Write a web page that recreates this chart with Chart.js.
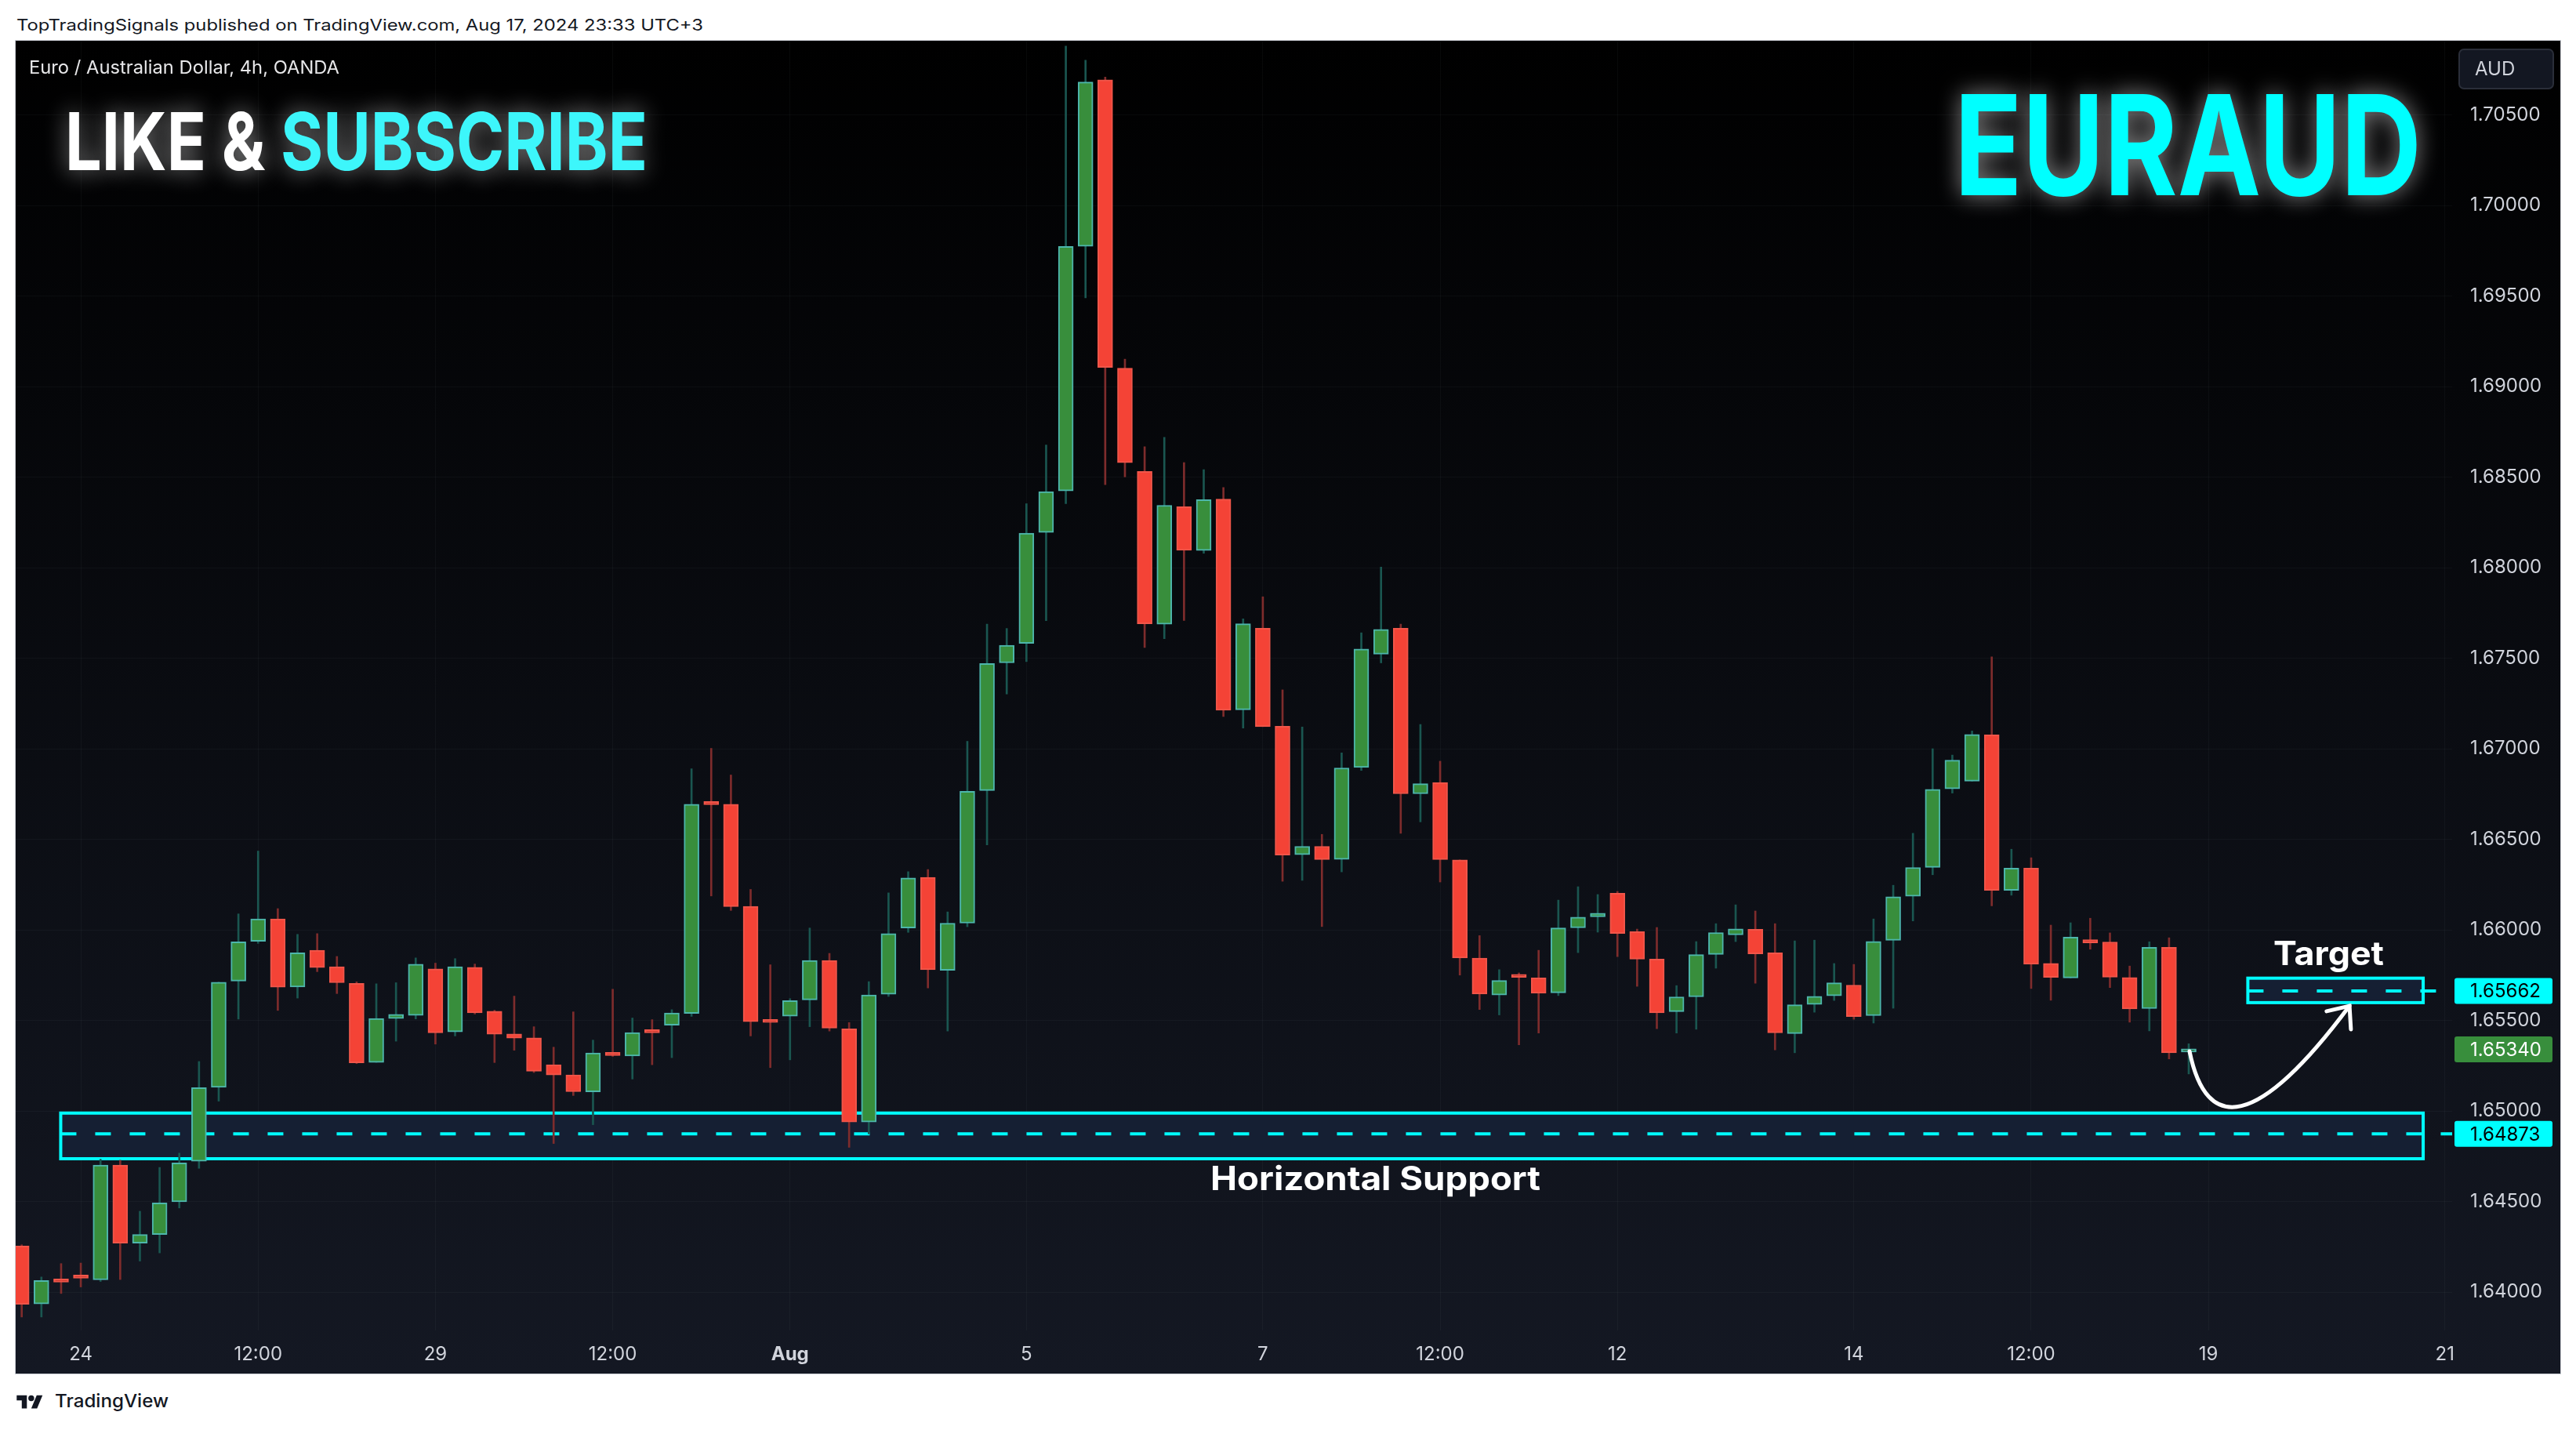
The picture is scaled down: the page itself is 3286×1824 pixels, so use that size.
<!DOCTYPE html>
<html>
<head>
<meta charset="utf-8">
<script src="https://cdn.jsdelivr.net/npm/chart.js@4.4.1/dist/chart.umd.min.js"></script>
<style>
  html, body { margin: 0; padding: 0; background: #ffffff; }
  body { width: 3286px; height: 1824px; position: relative; overflow: hidden; font-family: Inter, "Noto Sans", sans-serif; }
  .txt { position: absolute; white-space: nowrap; transform-origin: left top; }
  #header { left: 21px; top: 22px; font-size: 20px; line-height: 20px; color: #131722; }
  #frame { position: absolute; left: 19px; top: 51px; width: 3248px; height: 1702px; border: 1px solid #c9ccd3; box-sizing: border-box; }
  #wrap { position: absolute; left: 20px; top: 52px; width: 3246px; height: 1700px; }
  #logo { position: absolute; left: 21px; top: 1776px; }
  #footer { left: 70px; top: 1776px; font-size: 23px; line-height: 23px; font-weight: 500; color: #131722; }
</style>
</head>
<body>
<div id="header" class="txt">TopTradingSignals published on TradingView.com, Aug 17, 2024 23:33 UTC+3</div>
<div id="frame"></div>
<div id="wrap"><canvas id="chart"></canvas></div>
<svg id="logo" width="34" height="26" viewBox="0 0 36 28"><path d="M14 22H7V11H0V4h14v18z" fill="#131722"/><circle cx="20" cy="8" r="4" fill="#131722"/><path d="M28 22h-8l7.5-18h8z" fill="#131722"/></svg>
<div id="footer" class="txt">TradingView</div>
<script>
// EURAUD 4h candles, Jul 23 12:00 -> Aug 16 20:00 (UTC+3)
const opens = [1.64254,1.63934,1.64063,1.64085,1.64067,1.64701,1.64270,1.64318,1.64498,1.64722,
  1.65130,1.65717,1.65936,1.66060,1.65684,1.65887,1.65796,1.65704,1.65268,1.65510,
  1.65527,1.65784,1.65436,1.65793,1.65550,1.65425,1.65403,1.65255,1.65199,1.65105,
  1.65320,1.65303,1.65439,1.65473,1.65538,1.66697,1.66693,1.66130,1.65496,1.65523,
  1.65613,1.65831,1.65453,1.64939,1.65644,1.66010,1.66290,1.65776,1.66037,1.66769,
  1.67474,1.67582,1.68194,1.68423,1.69774,1.70693,1.69101,1.68531,1.67688,1.68336,
  1.68094,1.68378,1.67215,1.67665,1.67124,1.66415,1.66461,1.66389,1.66896,1.67522,
  1.67665,1.66751,1.66813,1.66386,1.65844,1.65640,1.65743,1.65734,1.65652,1.66011,
  1.66072,1.66202,1.65990,1.65838,1.65548,1.65630,1.65864,1.65972,1.66003,1.65873,
  1.65427,1.65588,1.65636,1.65695,1.65526,1.65942,1.66185,1.66345,1.66778,1.66821,
  1.67076,1.66218,1.66341,1.65815,1.65734,1.65946,1.65933,1.65737,1.65565,1.65903,
  1.65325];
const highs = [1.64261,1.64083,1.64157,1.64160,1.64733,1.64728,1.64446,1.64688,1.64767,1.65273,
  1.65711,1.66088,1.66435,1.66117,1.65975,1.65979,1.65853,1.65713,1.65702,1.65708,
  1.65845,1.65816,1.65841,1.65811,1.65556,1.65634,1.65465,1.65352,1.65547,1.65391,
  1.65672,1.65513,1.65504,1.65559,1.66889,1.67002,1.66855,1.66223,1.65807,1.65620,
  1.66010,1.65870,1.65488,1.65714,1.66204,1.66321,1.66333,1.66099,1.67041,1.67688,
  1.67664,1.68353,1.68677,1.70880,1.70802,1.70709,1.69151,1.68667,1.68719,1.68580,
  1.68541,1.68442,1.67717,1.67839,1.67325,1.67120,1.66527,1.66977,1.67640,1.68003,
  1.67688,1.67134,1.66931,1.66386,1.65968,1.65780,1.65762,1.65887,1.66164,1.66238,
  1.66195,1.66212,1.66004,1.66013,1.65692,1.65935,1.66034,1.66138,1.66104,1.66034,
  1.65939,1.65943,1.65814,1.65809,1.66060,1.66246,1.66533,1.67000,1.66965,1.67098,
  1.67507,1.66445,1.66398,1.66026,1.66039,1.66064,1.65983,1.65800,1.65934,1.65956,
  1.65371];
const lows = [1.63862,1.63862,1.63992,1.64028,1.64058,1.64069,1.64171,1.64216,1.64464,1.64683,
  1.65054,1.65507,1.65925,1.65555,1.65623,1.65769,1.65648,1.65261,1.65268,1.65385,
  1.65508,1.65369,1.65414,1.65535,1.65267,1.65335,1.65212,1.64820,1.65085,1.64924,
  1.65301,1.65176,1.65255,1.65294,1.65522,1.66187,1.66107,1.65414,1.65239,1.65282,
  1.65465,1.65441,1.64799,1.64873,1.65632,1.65986,1.65679,1.65441,1.66017,1.66469,
  1.67302,1.67481,1.67707,1.68353,1.69490,1.68458,1.68501,1.67559,1.67607,1.67708,
  1.68079,1.67178,1.67114,1.67122,1.66268,1.66273,1.66018,1.66320,1.66880,1.67474,
  1.66533,1.66596,1.66264,1.65750,1.65560,1.65530,1.65365,1.65430,1.65637,1.65874,
  1.65987,1.65852,1.65688,1.65454,1.65430,1.65451,1.65788,1.65935,1.65705,1.65337,
  1.65321,1.65545,1.65610,1.65506,1.65485,1.65567,1.66049,1.66304,1.66755,1.66821,
  1.66132,1.66191,1.65676,1.65611,1.65734,1.65893,1.65681,1.65490,1.65442,1.65287,
  1.65204];
const closes = [1.63932,1.64063,1.64055,1.64076,1.64701,1.64270,1.64318,1.64492,1.64713,1.65128,
  1.65711,1.65934,1.66060,1.65683,1.65873,1.65792,1.65708,1.65266,1.65510,1.65533,
  1.65810,1.65431,1.65796,1.65542,1.65423,1.65402,1.65219,1.65198,1.65106,1.65320,
  1.65306,1.65433,1.65431,1.65541,1.66693,1.66691,1.66128,1.65493,1.65488,1.65609,
  1.65831,1.65457,1.64939,1.65640,1.65979,1.66286,1.65780,1.66037,1.66765,1.67470,
  1.67571,1.68190,1.68420,1.69774,1.70681,1.69105,1.68579,1.67690,1.68344,1.68096,
  1.68375,1.67213,1.67690,1.67122,1.66413,1.66461,1.66388,1.66894,1.67551,1.67659,
  1.66751,1.66807,1.66388,1.65844,1.65645,1.65720,1.65737,1.65650,1.66010,1.66070,
  1.66092,1.65980,1.65838,1.65542,1.65630,1.65863,1.65985,1.66005,1.65867,1.65431,
  1.65586,1.65633,1.65707,1.65521,1.65936,1.66183,1.66344,1.66776,1.66937,1.67079,
  1.66218,1.66341,1.65810,1.65737,1.65960,1.65928,1.65739,1.65563,1.65903,1.65321,
  1.65340];

// time axis: candle index -> label
const timeTickIdx = [3, 12, 21, 30, 39, 51, 63, 72, 81, 93, 102, 111, 123];
const timeTickLabels = ['24', '12:00', '29', '12:00', 'Aug', '5', '7', '12:00', '12', '14', '12:00', '19', '21'];

const supportLevel = 1.64873;
const targetLevel = 1.65662;
const lastClose = closes[closes.length - 1];

const UP = '#388e3c', UP_BORDER = '#4db6ac', UP_WICK = '#1a5650';
const DOWN = '#f44336', DOWN_BORDER = '#f0564a', DOWN_WICK = '#7e2c2c';
const CYAN = '#00ffff';
const FONT = 'Inter, "Noto Sans", sans-serif';

const bodies = opens.map((o, i) => ({ x: i, y: [o, closes[i]] }));
const wicks = lows.map((l, i) => ({ x: i, y: [l, highs[i]] }));
const isUp = i => closes[i] >= opens[i];

function fitText(ctx, text, x, y, width) {
  const w = ctx.measureText(text).width;
  ctx.save();
  ctx.translate(x, y);
  ctx.scale(width / w, 1);
  ctx.fillText(text, 0, 0);
  ctx.restore();
}

function priceTag(ctx, chart, value, fill, color) {
  const y = chart.scales.y.getPixelForValue(value);
  ctx.save();
  ctx.fillStyle = fill;
  ctx.beginPath();
  ctx.roundRect(3111, y - 16.5, 125, 33, 3);
  ctx.fill();
  ctx.fillStyle = color;
  ctx.font = '24px ' + FONT;
  ctx.textBaseline = 'middle';
  ctx.textAlign = 'left';
  ctx.fillText(value.toFixed(5), 3131, y + 1);
  ctx.restore();
}

const drawings = {
  id: 'drawings',
  beforeDraw(chart) {
    const { ctx, width, height } = chart;
    const g = ctx.createLinearGradient(0, 0, 0, height);
    g.addColorStop(0, '#000000');
    g.addColorStop(1, '#141823');
    ctx.save();
    ctx.fillStyle = g;
    ctx.fillRect(0, 0, width, height);
    ctx.restore();
  },
  beforeDatasetsDraw(chart) {
    const { ctx, chartArea: a, scales: { x, y } } = chart;
    ctx.save();
    ctx.beginPath();
    ctx.rect(a.left, a.top, a.right - a.left, a.bottom - a.top);
    ctx.clip();
    const box = (x0, x1, top, bottom, level) => {
      const l = x.getPixelForValue(x0), r = x.getPixelForValue(x1);
      const t = y.getPixelForValue(top), b = y.getPixelForValue(bottom);
      ctx.fillStyle = '#151f33';
      ctx.fillRect(l, t, r - l, b - t);
      ctx.strokeStyle = CYAN;
      ctx.lineWidth = 4;
      ctx.setLineDash([]);
      ctx.strokeRect(l, t, r - l, b - t);
      const ly = y.getPixelForValue(level);
      ctx.setLineDash([20, 24]);
      ctx.beginPath();
      ctx.moveTo(l, ly);
      ctx.lineTo(a.right, ly);
      ctx.stroke();
    };
    box(1.98, 121.9, 1.64988, 1.64736, supportLevel);
    box(113.0, 121.9, 1.65733, 1.65598, targetLevel);
    ctx.restore();
  },
  afterDatasetsDraw(chart) {
    const { ctx, scales: { x, y } } = chart;
    const p = (i, v) => [x.getPixelForValue(i), y.getPixelForValue(v)];
    const p0 = p(110.04, 1.65329), p1 = p(110.9, 1.6487), p2 = p(113.5, 1.6490), p3 = p(118.16, 1.6558);
    ctx.save();
    ctx.strokeStyle = '#ffffff';
    ctx.lineWidth = 5;
    ctx.lineCap = 'round';
    ctx.beginPath();
    ctx.moveTo(p0[0], p0[1]);
    ctx.bezierCurveTo(p1[0], p1[1], p2[0], p2[1], p3[0], p3[1]);
    ctx.stroke();
    const ang = Math.atan2(p3[1] - p2[1], p3[0] - p2[0]);
    const len = 30;
    ctx.beginPath();
    ctx.moveTo(p3[0] - len * Math.cos(ang - 0.7), p3[1] - len * Math.sin(ang - 0.7));
    ctx.lineTo(p3[0], p3[1]);
    ctx.lineTo(p3[0] - len * Math.cos(ang + 0.7), p3[1] - len * Math.sin(ang + 0.7));
    ctx.stroke();
    ctx.restore();
  },
  afterDraw(chart) {
    const { ctx } = chart;
    ctx.save();
    // symbol title
    ctx.fillStyle = '#e8e8ea';
    ctx.font = '23px ' + FONT;
    ctx.textBaseline = 'alphabetic';
    fitText(ctx, 'Euro / Australian Dollar, 4h, OANDA', 17, 42, 396);

    // LIKE & SUBSCRIBE
    ctx.font = 'bold 102px ' + FONT;
    const all = ctx.measureText('LIKE & SUBSCRIBE').width;
    const s = 743 / all;
    const first = ctx.measureText('LIKE & ').width * s;
    ctx.shadowColor = 'rgba(255,255,255,0.55)';
    ctx.shadowBlur = 30;
    ctx.fillStyle = '#ffffff';
    fitText(ctx, 'LIKE & ', 63, 165, first);
    ctx.fillStyle = '#3df6fb';
    fitText(ctx, 'SUBSCRIBE', 63 + first, 165, 743 - first);

    // EURAUD
    ctx.font = 'bold 177px ' + FONT;
    ctx.fillStyle = CYAN;
    fitText(ctx, 'EURAUD', 2473, 197, 596);

    // labels on drawings
    ctx.shadowBlur = 0;
    ctx.shadowColor = 'transparent';
    ctx.fillStyle = '#ffffff';
    ctx.font = 'bold 42px ' + FONT;
    fitText(ctx, 'Horizontal Support', 1734 - 210, 1466, 421);
    fitText(ctx, 'Target', 2950 - 70, 1179, 141);

    // currency box
    ctx.fillStyle = '#131722';
    ctx.strokeStyle = '#2a2e39';
    ctx.lineWidth = 2;
    ctx.beginPath();
    ctx.roundRect(3117, 11, 120, 50, 6);
    ctx.fill();
    ctx.stroke();
    ctx.fillStyle = '#d1d4dc';
    ctx.font = '24px ' + FONT;
    ctx.textBaseline = 'middle';
    ctx.fillText('AUD', 3137, 37);
    ctx.restore();

    priceTag(ctx, chart, targetLevel, CYAN, '#000000');
    priceTag(ctx, chart, lastClose, '#388e3c', '#ffffff');
    priceTag(ctx, chart, supportLevel, CYAN, '#000000');
  }
};

const gridColor = 'rgba(240,243,250,0.035)';

function noPad(s) {
  s.paddingTop = 0;
  s.paddingBottom = 0;
  s.paddingLeft = 0;
  s.paddingRight = 0;
}

new Chart(document.getElementById('chart'), {
  type: 'bar',
  data: {
    datasets: [
      {
        label: 'body',
        data: bodies,
        order: 0,
        grouped: false,
        barThickness: 19,
        minBarLength: 4,
        borderWidth: 2,
        borderSkipped: false,
        backgroundColor: c => isUp(c.dataIndex) ? UP : DOWN,
        borderColor: c => isUp(c.dataIndex) ? UP_BORDER : DOWN_BORDER
      },
      {
        label: 'wick',
        data: wicks,
        order: 1,
        grouped: false,
        barThickness: 2,
        borderWidth: 0,
        backgroundColor: c => isUp(c.dataIndex) ? UP_WICK : DOWN_WICK
      }
    ]
  },
  options: {
    responsive: true,
    maintainAspectRatio: false,
    animation: false,
    layout: { padding: 0 },
    plugins: { legend: { display: false }, tooltip: { enabled: false } },
    scales: {
      x: {
        type: 'linear',
        min: -0.306,
        max: 123.37,
        offset: false,
        border: { display: false },
        grid: { color: gridColor, drawTicks: false, offset: false },
        afterBuildTicks: s => { s.ticks = timeTickIdx.map(v => ({ value: v })); },
        afterFit: s => { s.height = 55; noPad(s); },
        ticks: {
          autoSkip: false,
          maxRotation: 0,
          padding: 16,
          color: '#d1d4dc',
          font: c => ({ family: FONT, size: 24, weight: timeTickLabels[c.index] === 'Aug' ? '700' : '400' }),
          callback: (v, i) => timeTickLabels[i]
        }
      },
      y: {
        position: 'right',
        min: 1.637879,
        max: 1.709091,
        border: { display: false },
        grid: { color: gridColor, drawTicks: false },
        afterFit: s => { s.width = 138; noPad(s); },
        ticks: {
          stepSize: 0.005,
          includeBounds: false,
          padding: 23,
          color: '#d1d4dc',
          font: { family: FONT, size: 24 },
          callback: v => v.toFixed(5)
        }
      }
    }
  },
  plugins: [drawings]
});

function fitWidth(id, w) {
  const el = document.getElementById(id);
  el.style.transform = 'scaleX(' + (w / el.getBoundingClientRect().width) + ')';
}
fitWidth('header', 876);
fitWidth('footer', 145);
</script>
</body>
</html>
